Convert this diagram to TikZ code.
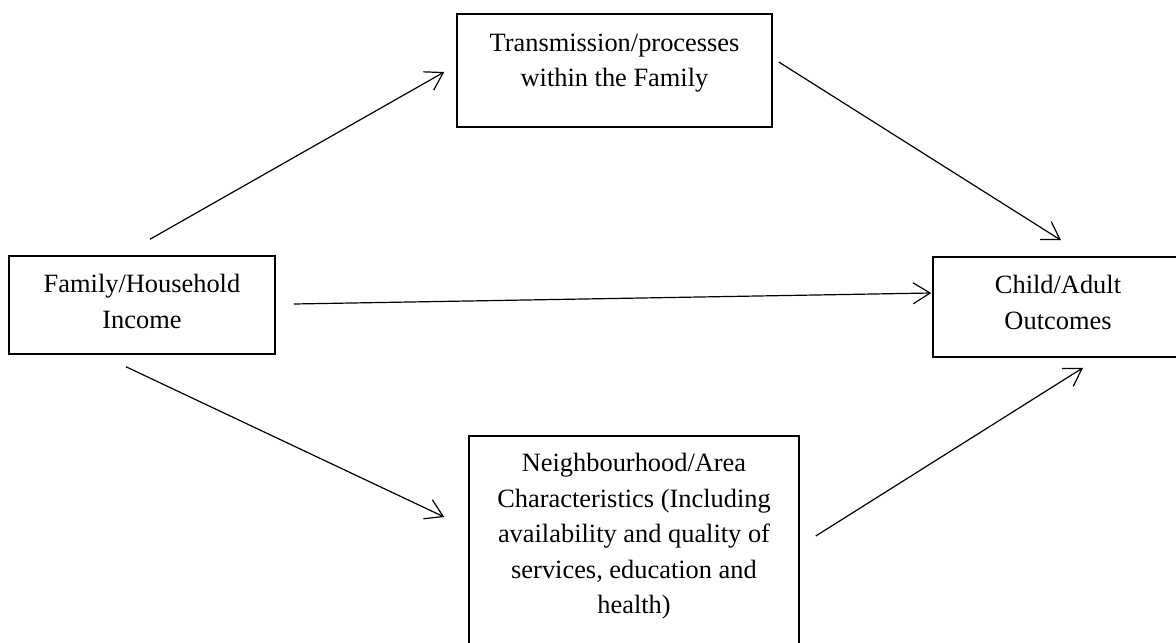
\documentclass[tikz,border=0pt]{standalone}
\usepackage{fontspec}
\setmainfont{Liberation Serif}
\usetikzlibrary{arrows.meta, positioning, calc}
\tikzset{
  ->,
  >={Straight Barb[length=8.5pt,width=10.5pt]},
  box/.style={draw, line width=0.75pt, inner sep=0pt},
  boxtext/.style={inner sep=0pt, anchor=north, align=center},
}

\begin{document}
\begin{tikzpicture}[x=0.5pt, y=-0.5pt, line width=0.6pt,
    font=\fontsize{13.2pt}{17.75pt}\selectfont]
      \useasboundingbox (0,0) rectangle (1176,642);

      \node[box, minimum width=133pt, minimum height=49pt]     (famly) at (142,305) {};
      \node[box, minimum width=157.5pt, minimum height=56.5pt] (trans) at (614.5,70.5) {};
      \node[box, minimum width=125pt, minimum height=50pt]     (outc) at (1058,307) {};
      \node[box, minimum width=165pt, minimum height=112pt]    (neigh) at (634,548) {};

      \node[boxtext] (famlytext) at ($(famly.north)+(0,18.7)$) {Family/Household\\Income};
      \node[boxtext] (transtext) at ($(trans.north)+(0,19.7)$) {Transmission/processes\\within the Family};
      \node[boxtext] (outctext)  at ($(outc.north)+(0,18.7)$)  {Child/Adult\\Outcomes};
      \node[boxtext] (neightext) at ($(neigh.north)+(0,17.7)$) {Neighbourhood/Area\\Characteristics (Including\\availability and quality of\\services, education and\\health)};

      \draw ($(famly.north)+(8,-16)$)  -- ($(trans.west)+(-12,1.5)$);
      \draw ($(trans.east)+(6,-8.5)$)  -- ($(outc.north)+(3,-16)$);
      \draw ($(famly.east)+(18,-1)$)   -- ($(outc.west)+(-1,-14)$);
      \draw ($(famly.south)+(-16,12)$) -- ($(neigh.west)+(-24,-31)$);
      \draw ($(neigh.east)+(16,-12)$)  -- ($(outc.south)+(25,10)$);
    \end{tikzpicture}
\end{document}
